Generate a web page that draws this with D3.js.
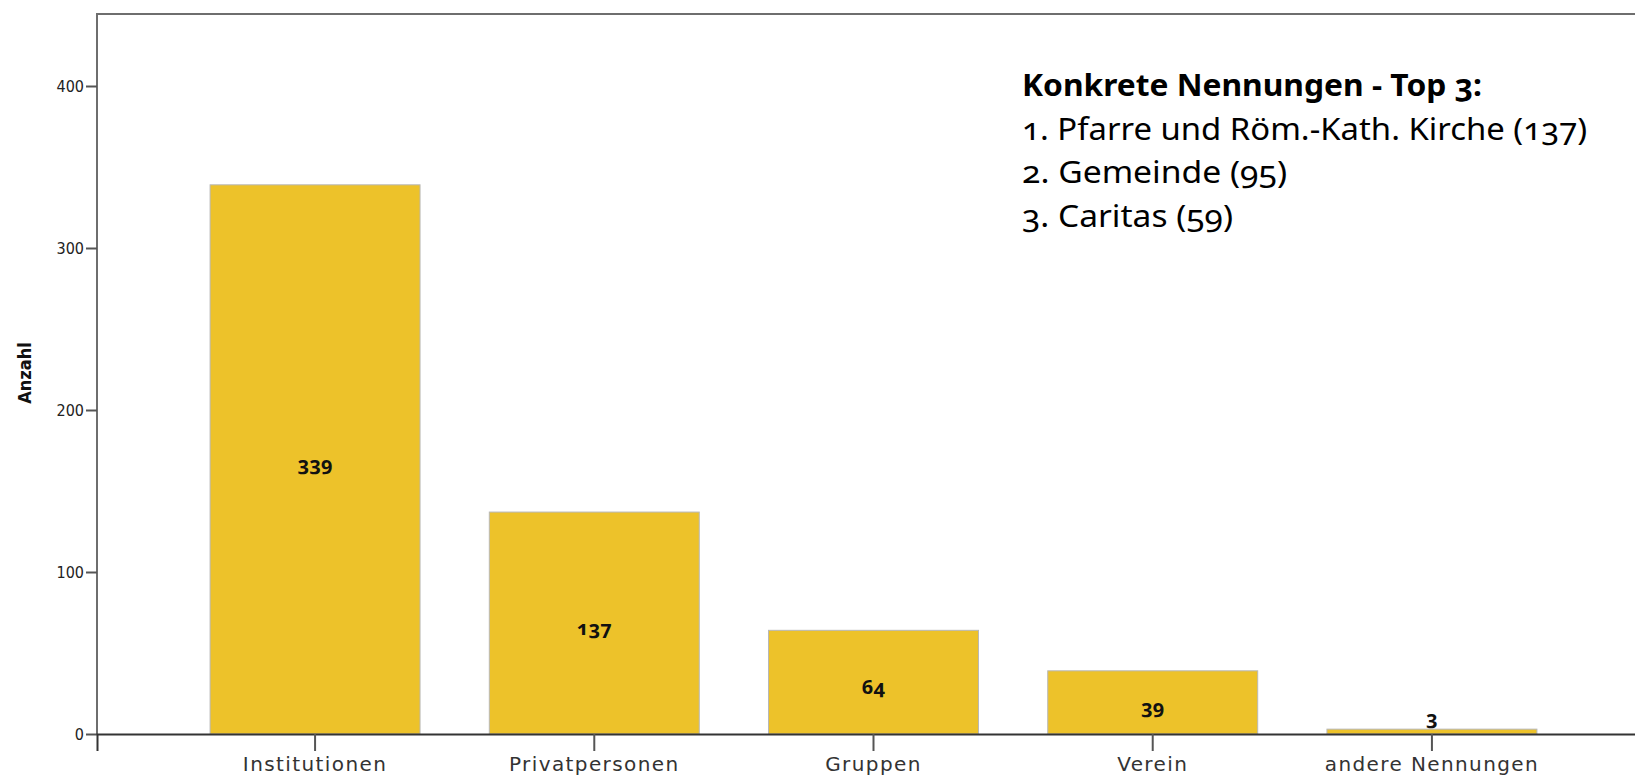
<!DOCTYPE html>
<html>
<head>
<meta charset="utf-8">
<script src="https://cdn.jsdelivr.net/npm/d3@7"></script>
<style>
  html, body { margin: 0; padding: 0; background: #fff; }
  svg { display: block; }
</style>
</head>
<body>
<div id="chart"></div>
<script>
// Daten
const categories = ['Institutionen', 'Privatpersonen', 'Gruppen', 'Verein', 'andere Nennungen'];
const counts = [339, 137, 64, 39, 3];
const yTicks = [0, 100, 200, 300, 400];
const noteTitle = 'Konkrete Nennungen - Top 3:';
const noteLines = ['1. Pfarre und Röm.-Kath. Kirche (137)', '2. Gemeinde (95)', '3. Caritas (59)'];

const W = 1635, H = 780;
const plotLeft = 97, plotTop = 14, plotBase = 734;

const svg = d3.select('#chart').append('svg').attr('width', W).attr('height', H);

const y = d3.scaleLinear().domain([0, 400]).range([plotBase, 86]);
const x = d3.scaleBand().domain(categories).range([plotLeft, 1650])
  .paddingInner(0.248).paddingOuter(0.405);

// Rahmen oben + links
svg.append('line').attr('x1', plotLeft).attr('x2', W).attr('y1', plotTop).attr('y2', plotTop)
  .attr('stroke', '#6e6e6e').attr('stroke-width', 2);
svg.append('line').attr('x1', plotLeft).attr('x2', plotLeft).attr('y1', plotTop - 1).attr('y2', plotBase)
  .attr('stroke', '#6e6e6e').attr('stroke-width', 2);

// Balken
const data = categories.map((c, i) => ({ cat: c, v: counts[i] }));
svg.append('g').selectAll('rect').data(data).join('rect')
  .attr('x', d => x(d.cat)).attr('width', x.bandwidth())
  .attr('y', d => y(d.v)).attr('height', d => plotBase - y(d.v))
  .attr('fill', '#edc22a').attr('stroke', '#b8b8b8').attr('stroke-width', 1);

// Y-Achse
const gy = svg.append('g').attr('transform', `translate(${plotLeft},0)`)
  .call(d3.axisLeft(y).tickValues(yTicks).tickSize(11).tickPadding(2));
gy.select('.domain').remove();
gy.selectAll('.tick line').attr('stroke', '#555').attr('stroke-width', 2);
gy.selectAll('.tick text')
  .attr('font-family', '"DejaVu Sans Condensed", "DejaVu Sans", sans-serif')
  .attr('font-size', 16).attr('fill', '#222');

// X-Achse
const gx = svg.append('g').attr('transform', `translate(0,${plotBase})`)
  .call(d3.axisBottom(x).tickSize(17).tickPadding(6));
gx.select('.domain').attr('stroke', '#333').attr('stroke-width', 2);
gx.selectAll('.tick line').attr('stroke', '#555').attr('stroke-width', 2);
gx.selectAll('.tick text')
  .attr('font-family', '"DejaVu Sans", sans-serif')
  .attr('font-size', 20).attr('letter-spacing', '1.4px').attr('fill', '#333');

// Achsentitel
svg.append('text')
  .attr('transform', 'translate(24,373) rotate(-90)')
  .attr('text-anchor', 'middle').attr('dominant-baseline', 'central')
  .attr('font-family', '"DejaVu Sans Condensed", "DejaVu Sans", sans-serif')
  .attr('font-weight', 'bold').attr('font-size', 18).attr('fill', '#111')
  .text('Anzahl');

// Werte in den Balken (kleine Balken: Wert darüber)
svg.append('g').selectAll('text').data(data).join('text')
  .attr('x', d => x(d.cat) + x.bandwidth() / 2)
  .attr('y', d => (plotBase - y(d.v)) < 20 ? y(d.v) - 12 : y(d.v / 2) + 4)
  .attr('text-anchor', 'middle').attr('dominant-baseline', 'central')
  .attr('font-family', '"Noto Sans", sans-serif')
  .style('font-variant-numeric', 'oldstyle-nums')
  .attr('font-weight', 'bold').attr('font-size', 20).attr('fill', '#111')
  .text(d => d.v);

// Anmerkung Top 3
const note = svg.append('g').attr('font-family', '"Noto Sans", sans-serif')
  .style('font-variant-numeric', 'oldstyle-nums').attr('fill', '#000');
const noteWidths = [460, 565, 265, 211];
[noteTitle, ...noteLines].forEach((t, i) => {
  note.append('text')
    .attr('x', 1022).attr('y', 96 + i * 43.5)
    .attr('font-size', 31).attr('font-weight', i === 0 ? 'bold' : 'normal')
    .attr('textLength', noteWidths[i]).attr('lengthAdjust', 'spacingAndGlyphs')
    .text(t);
});
</script>
</body>
</html>
